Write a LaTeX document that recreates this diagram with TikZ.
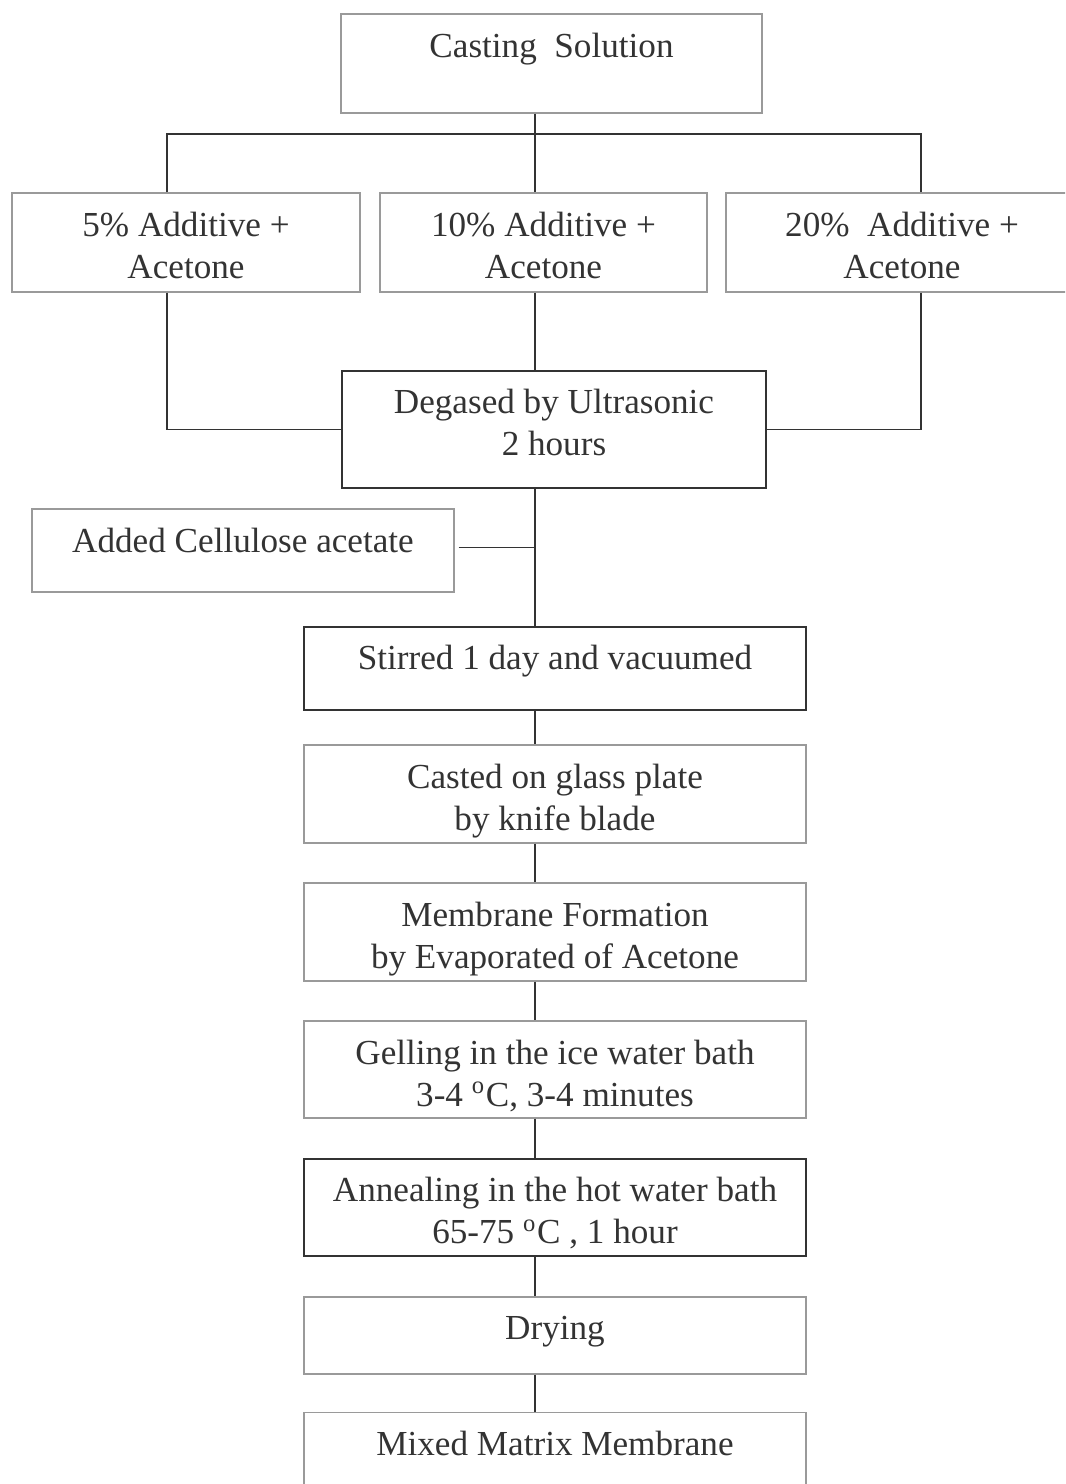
\documentclass[tikz,border=0pt]{standalone}
\usepackage{fontspec}
\setmainfont{Liberation Serif}
\usetikzlibrary{positioning}
\definecolor{ink}{HTML}{333333}
\definecolor{faint}{HTML}{9A9A9A}

\begin{document}
\begin{tikzpicture}[node distance=3.85mm,
 font=\fontsize{10}{12}\selectfont,
 tx/.style={anchor=north,inner sep=0pt,yshift=-0.19cm,align=center,text=ink},
 box/.style={draw=faint,line width=0.4pt,minimum width=5.02cm,inner sep=0pt},
 bold/.style={box,draw=ink,line width=0.75pt},
 link/.style={draw=ink,line width=0.5pt}]
\useasboundingbox (0,0) rectangle (10.65,-14.84);
\clip (0,0) rectangle (10.65,-14.84);
% spine and branch points
\coordinate (sp) at (5.35,0);
\coordinate (lb) at (1.67,-1.34);
\coordinate (rb) at (9.21,-1.34);
% top part
\node[box,minimum width=4.21cm,minimum height=0.99cm,
 label={[tx]north:Casting~ Solution}] (cs) at (5.515,-0.635) {};
\node[box,minimum width=3.48cm,minimum height=0.99cm,
 label={[tx]north:5\% Additive +\\Acetone}] (a5) at (1.86,-2.425) {};
\node[box,minimum width=3.27cm,minimum height=0.99cm,
 label={[tx]north:10\% Additive +\\Acetone}] (a10) at (5.435,-2.425) {};
\node[box,minimum width=3.52cm,minimum height=0.99cm,
 label={[tx]north:20\%~ Additive +\\Acetone}] (a20) at (9.02,-2.425) {};
\node[bold,minimum width=4.24cm,minimum height=1.17cm,
 label={[tx]north:Degased by Ultrasonic\\2 hours}] (deg) at (5.54,-4.295) {};
\node[box,minimum width=4.22cm,minimum height=0.83cm,
 label={[tx]north:Added Cellulose acetate}] (add) at (2.43,-5.505) {};
% main column
\node[bold,minimum height=0.83cm,
 label={[tx]north:Stirred 1 day and vacuumed}] (stir) at (5.55,-6.685) {};
\node[box,minimum height=0.98cm,below=0.33cm of stir,
 label={[tx]north:Casted on glass plate\\by knife blade}] (cast) {};
\node[box,minimum height=0.98cm,below=of cast,
 label={[tx]north:Membrane Formation\\by Evaporated of Acetone}] (mem) {};
\node[box,minimum height=0.97cm,below=of mem,
 label={[tx]north:Gelling in the ice water bath\\3-4 \textsuperscript{o}C, 3-4 minutes}] (gel) {};
\node[bold,minimum height=0.97cm,below=0.39cm of gel,
 label={[tx]north:Annealing in the hot water bath\\65-75 \textsuperscript{o}C , 1 hour}] (ann) {};
\node[box,minimum height=0.77cm,below=0.39cm of ann,
 label={[tx]north:Drying}] (dry) {};
\node[box,minimum height=0.95cm,below=0.37cm of dry,
 label={[tx]north:Mixed Matrix Membrane}] (mmm) {};
% connectors
\draw[link] (cs.south -| sp) -- (a10.north -| sp);
\draw[link] (a5.north -| lb) -- (lb) -- (rb) -- (a20.north -| rb);
\draw[link] (a5.south -| lb) |- (deg.west);
\draw[link] (a20.south -| rb) |- (deg.east);
\draw[link] (a10.south -| sp) -- (deg.north -| sp);
\draw[link] (deg.south -| sp) -- (stir.north -| sp);
\draw[link] ([shift={(0.04cm,0.03cm)}]add.east) -- ++(0.77,0);
\foreach \u/\v in {stir/cast,cast/mem,mem/gel,gel/ann,ann/dry,dry/mmm}
 \draw[link] (\u.south -| sp) -- (\v.north -| sp);
\end{tikzpicture}
\end{document}
